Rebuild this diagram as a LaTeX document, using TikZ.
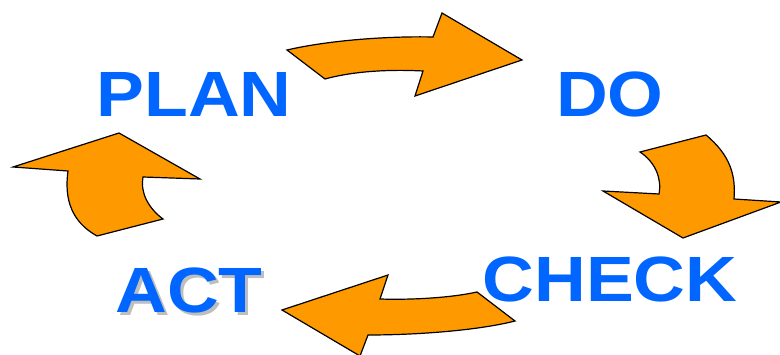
\documentclass[tikz,border=0pt]{standalone}
\usepackage{fontspec}
\usetikzlibrary{positioning}
\newfontfamily\pdcafont{Liberation Sans Bold}[FakeStretch=1.12]
\definecolor{pdcaOrange}{RGB}{255, 153, 0}
\definecolor{pdcaBlue}{RGB}{0, 102, 255}
\definecolor{pdcaShadow}{RGB}{190, 190, 190}

\begin{document}
\begin{tikzpicture}[
  x=1pt,y=-1pt,
  phase/.style={
    anchor=base,
    inner sep=0pt,
    text=pdcaBlue,
    font=\pdcafont\fontsize{64}{64}\selectfont
  },
  blockarrow/.style={draw=black,line width=1.2pt,line join=miter,fill=pdcaOrange}
]
  \useasboundingbox (0,0) rectangle (780,355);
  \node[phase] (plan) at (194,117) {PLAN};
  \node[phase] (do) at (610,117) {DO};
  \node[phase] (check) at (610,302) {CHECK};
  \node[phase] (act) at (189,313) {\rlap{\kern3pt\raisebox{-3pt}{\color{pdcaShadow}ACT}}ACT};
  \draw[blockarrow] (287,50) .. controls (330,40) and (390,36) .. (433,37) -- (442,13) -- (522,60)
    -- (415,96) -- (423,71) .. controls (385,69) and (350,72) .. (325,79) -- cycle;
  \draw[blockarrow] (640,152) -- (706,135) .. controls (730,155) and (736,175) .. (734,199) -- (781,202)
    -- (683,238) -- (603,191) -- (659,194) .. controls (662,178) and (655,162) .. (640,152) -- cycle;
  \draw[blockarrow] (477,292) .. controls (450,298) and (410,300) .. (380,299) -- (388,275) -- (282,310)
    -- (360,356) -- (368,335) .. controls (420,335) and (480,330) .. (515,321) -- cycle;
  \draw[blockarrow] (119,133) -- (13,167) -- (68,171) .. controls (64,200) and (72,222) .. (97,236)
    -- (163,219) .. controls (148,208) and (140,192) .. (143,177) -- (200,179) -- cycle;
\end{tikzpicture}
\end{document}
